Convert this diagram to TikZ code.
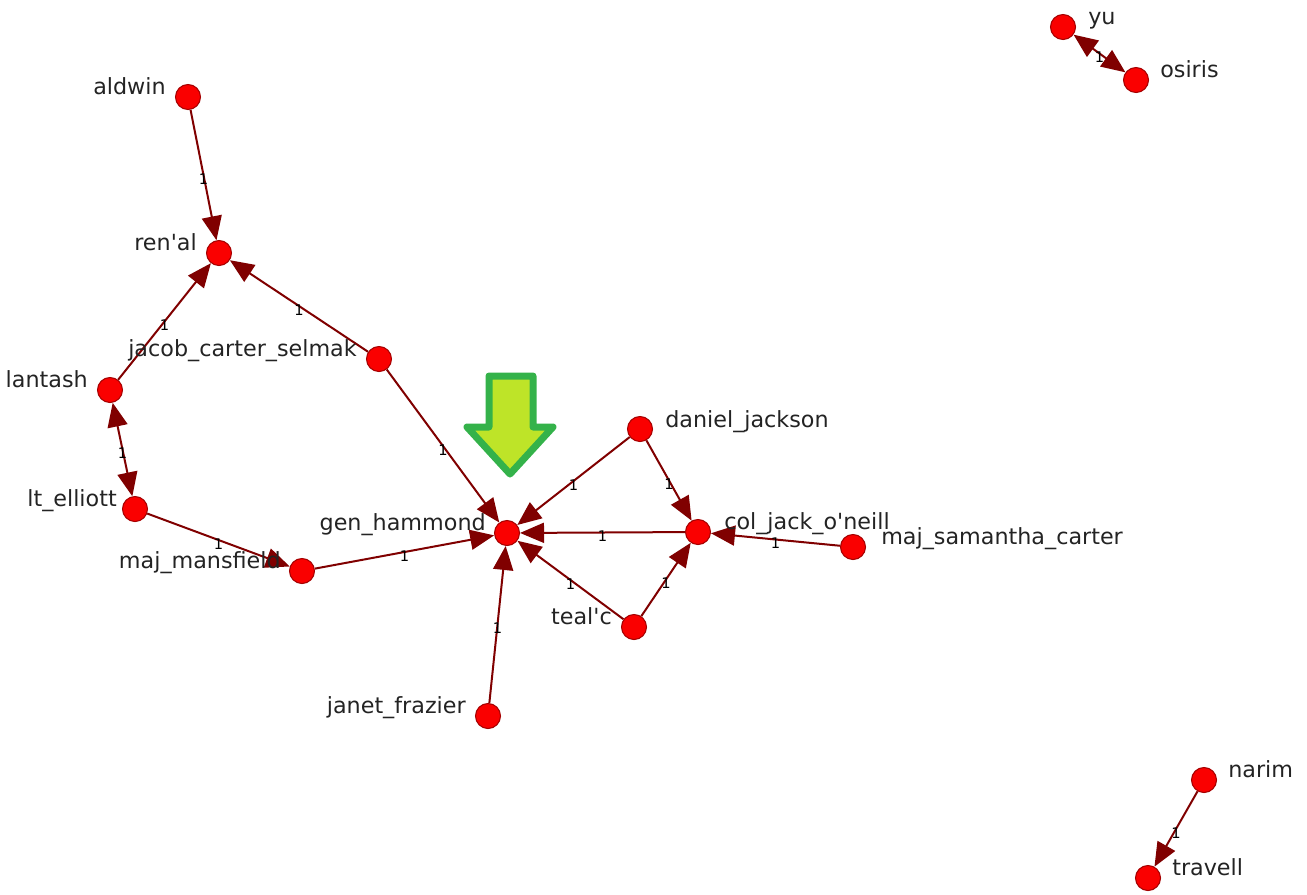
\documentclass[tikz,border=0pt]{standalone}
\usepackage{fontspec}
\setmainfont{DejaVu Sans}[Ligatures=TeXOff]
\usetikzlibrary{arrows.meta}
\definecolor{edgecol}{RGB}{128,0,0}
\definecolor{nodefill}{RGB}{250,0,0}
\definecolor{nodeborder}{RGB}{165,0,0}
\definecolor{labelcol}{RGB}{35,35,35}
\definecolor{arrowfill}{RGB}{190,228,40}
\definecolor{arrowline}{RGB}{52,178,74}
\begin{document}
\begin{tikzpicture}[x=0.75pt,y=-0.75pt,
  vert/.style={circle,fill=nodefill,draw=nodeborder,line width=0.8pt,minimum size=18.75pt,inner sep=0pt},
  lbl/.style={inner sep=0pt,font=\fontsize{16.7}{18}\selectfont,text=labelcol},
  conn/.style={draw=edgecol,line width=1.5pt,-{Triangle[length=18pt,width=15pt]}},
  biconn/.style={draw=edgecol,line width=1.5pt,{Triangle[length=18pt,width=15pt]}-{Triangle[length=18pt,width=15pt]}},
  wlab/.style={inner sep=0pt,font=\fontsize{11}{11}\selectfont,text=black,yshift=-3pt}]
\useasboundingbox (0,0) rectangle (1307,894);

% vertices
\node[vert] (aldwin) at (188,97) {};
\node[vert] (renal) at (219,253) {};
\node[vert] (jacob) at (379,359) {};
\node[vert] (lantash) at (110,390) {};
\node[vert] (elliott) at (135,509) {};
\node[vert] (mansfield) at (302,571) {};
\node[vert] (hammond) at (507,533) {};
\node[vert] (daniel) at (640,429) {};
\node[vert] (oneill) at (698,532) {};
\node[vert] (samantha) at (853,547) {};
\node[vert] (tealc) at (634,627) {};
\node[vert] (janet) at (488,716) {};
\node[vert] (yu) at (1063,27) {};
\node[vert] (osiris) at (1136,80) {};
\node[vert] (narim) at (1204,780) {};
\node[vert] (travell) at (1148,878) {};

% connectors
\draw[conn] (aldwin) -- node[wlab]{1} (renal);
\draw[conn] (lantash) -- node[wlab]{1} (renal);
\draw[conn] (jacob) -- node[wlab]{1} (renal);
\draw[conn] (jacob) -- node[wlab]{1} (hammond);
\draw[biconn] (lantash) -- node[wlab]{1} (elliott);
\draw[conn] (elliott) -- node[wlab]{1} (mansfield);
\draw[conn] (mansfield) -- node[wlab]{1} (hammond);
\draw[conn] (daniel) -- node[wlab]{1} (hammond);
\draw[conn] (daniel) -- node[wlab]{1} (oneill);
\draw[conn] (oneill) -- node[wlab]{1} (hammond);
\draw[conn] (samantha) -- node[wlab]{1} (oneill);
\draw[conn] (tealc) -- node[wlab]{1} (hammond);
\draw[conn] (tealc) -- node[wlab]{1} (oneill);
\draw[conn] (janet) -- node[wlab]{1} (hammond);
\draw[biconn] (yu) -- node[wlab]{1} (osiris);
\draw[conn] (narim) -- node[wlab]{1} (travell);

% labels
\node[lbl,anchor=base east] (l-aldwin) at (166,94) {aldwin};
\node[lbl,anchor=base east] (l-renal) at (197,250) {ren'al};
\node[lbl,anchor=base east] (l-jacob) at (357,356) {jacob\_carter\_selmak};
\node[lbl,anchor=base east] (l-lantash) at (88,387) {lantash};
\node[lbl,anchor=base east] (l-elliott) at (117,506) {lt\_elliott};
\node[lbl,anchor=base east] (l-mansfield) at (281,568) {maj\_mansfield};
\node[lbl,anchor=base east] (l-hammond) at (486,530) {gen\_hammond};
\node[lbl,anchor=base east] (l-tealc) at (612,624) {teal'c};
\node[lbl,anchor=base east] (l-janet) at (466,713) {janet\_frazier};
\node[lbl,anchor=base west] (l-daniel) at (665,427) {daniel\_jackson};
\node[lbl,anchor=base west] (l-oneill) at (724,529) {col\_jack\_o'neill};
\node[lbl,anchor=base west] (l-samantha) at (881,544) {maj\_samantha\_carter};
\node[lbl,anchor=base west] (l-yu) at (1088,24) {yu};
\node[lbl,anchor=base west] (l-osiris) at (1160,77) {osiris};
\node[lbl,anchor=base west] (l-narim) at (1228,777) {narim};
\node[lbl,anchor=base west] (l-travell) at (1172,875) {travell};

% green pointer arrow
\draw[fill=arrowfill,draw=arrowline,line width=5.25pt,line join=round]
  (489,376) -- (533,376) -- (533,427) -- (553,427) -- (510,474) -- (467,427) -- (489,427) -- cycle;
\end{tikzpicture}
\end{document}
